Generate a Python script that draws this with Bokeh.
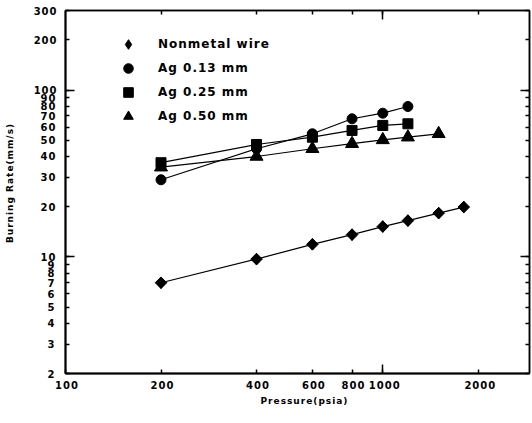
from bokeh.plotting import figure
from bokeh.models import (Range1d, FixedTicker, PrintfTickFormatter, LogAxis,
                          Legend, LegendItem, InlineStyleSheet)
from bokeh.embed import file_html
from bokeh.resources import INLINE
import numpy as np

# Burning rate (mm/s) versus pressure (psia)
p_nonmetal = [200, 400, 600, 800, 1000, 1200, 1500, 1800]
r_nonmetal = [7.0, 9.7, 11.9, 13.6, 15.2, 16.5, 18.3, 19.9]

p_ag013 = [200, 400, 600, 800, 1000, 1200]
r_ag013 = [29.0, 44.5, 54.7, 67.3, 72.7, 79.7]

p_ag025 = [200, 400, 600, 800, 1000, 1200]
r_ag025 = [36.7, 47.2, 52.2, 57.3, 61.4, 62.8]

p_ag050 = [200, 400, 600, 800, 1000, 1200, 1500]
r_ag050 = [34.5, 40.0, 44.5, 47.7, 50.3, 52.2, 54.7]

x_ticks = [100, 200, 400, 600, 800, 1000, 2000]
y_ticks = [2, 3, 4, 5, 6, 7, 8, 9, 10, 20, 30, 40, 50, 60, 70, 80, 90, 100, 200, 300]
decade_y = [10, 100]
decade_x = [1000]

FONT = "DejaVu Sans"

p = figure(width=532, height=423, x_axis_type="log", y_axis_type="log",
           x_range=Range1d(100, 2900), y_range=Range1d(2, 300),
           output_backend="svg", toolbar_location=None,
           min_border_left=65, min_border_right=3,
           min_border_top=10, min_border_bottom=50)
p.grid.visible = False
p.outline_line_color = "black"
p.outline_line_width = 1.5
p.background_fill_color = "white"
p.border_fill_color = "white"
# slightly spaced-out lettering
p.stylesheets = [InlineStyleSheet(css=":host { letter-spacing: 1px; }")]


def style_axis(ax, ticks, long_ticks, show_labels, width):
    ax.ticker = FixedTicker(ticks=ticks, minor_ticks=long_ticks)
    ax.axis_line_color = "black"
    ax.axis_line_width = width
    ax.major_tick_in = 4
    ax.major_tick_out = 0
    ax.minor_tick_in = 9
    ax.minor_tick_out = 0
    ax.major_tick_line_width = 1.5
    ax.minor_tick_line_width = 1.5
    ax.major_tick_line_color = "black"
    ax.minor_tick_line_color = "black"
    ax.formatter = PrintfTickFormatter(format="%d")
    if show_labels:
        ax.major_label_text_font = FONT
        ax.major_label_text_font_style = "bold"
        ax.major_label_text_font_size = "10px"
        ax.major_label_text_color = "black"
    else:
        ax.major_label_text_font_size = "0px"
        ax.major_label_text_color = None
        ax.major_label_standoff = 0


xa = p.xaxis[0]
style_axis(xa, x_ticks, decade_x, True, 2)
xa.major_label_standoff = 7
xa.axis_label = "Pressure(psia)"
xa.axis_label_standoff = 4

ya = p.yaxis[0]
style_axis(ya, y_ticks, decade_y, True, 2)
ya.major_label_standoff = 11
ya.axis_label = "Burning Rate(mm/s)"
ya.axis_label_standoff = 16

for ax in (xa, ya):
    ax.axis_label_text_font = FONT
    ax.axis_label_text_font_style = "bold"
    ax.axis_label_text_font_size = "9px"
    ax.axis_label_text_color = "black"

top = LogAxis()
style_axis(top, x_ticks[1:], decade_x, False, 1.5)
p.add_layout(top, "above")

right = LogAxis()
style_axis(right, y_ticks, decade_y, False, 1.5)
p.add_layout(right, "right")

series = [
    ("Nonmetal wire", p_nonmetal, r_nonmetal, "square", 8.2, np.pi / 4),
    ("Ag 0.13 mm", p_ag013, r_ag013, "circle", 10, 0.0),
    ("Ag 0.25 mm", p_ag025, r_ag025, "square", 10, 0.0),
    ("Ag 0.50 mm", p_ag050, r_ag050, "triangle", 13, 0.0),
]

items = []
for label, xs, ys, marker, size, ang in series:
    p.line(xs, ys, line_color="black", line_width=1.2)
    if marker == "square" and ang:
        # plain diamond kept under the rotated squares; it supplies the legend swatch
        r = p.scatter(xs, ys, marker="diamond", size=11.5,
                      fill_color="black", line_color="black")
        p.scatter(xs, ys, marker=marker, size=size, angle=ang,
                  fill_color="black", line_color="black")
    else:
        r = p.scatter(xs, ys, marker=marker, size=size, angle=ang,
                      fill_color="black", line_color="black")
    items.append(LegendItem(label=label, renderers=[r]))

legend = Legend(items=items, location=(48, 245), orientation="vertical",
                glyph_width=30, glyph_height=24, label_height=20,
                label_standoff=15, spacing=0, padding=0, margin=0,
                border_line_color=None, background_fill_alpha=0,
                label_text_font=FONT, label_text_font_style="bold",
                label_text_font_size="12px", label_text_color="black")
p.add_layout(legend)

open("out.html", "w").write(file_html(p, INLINE))
